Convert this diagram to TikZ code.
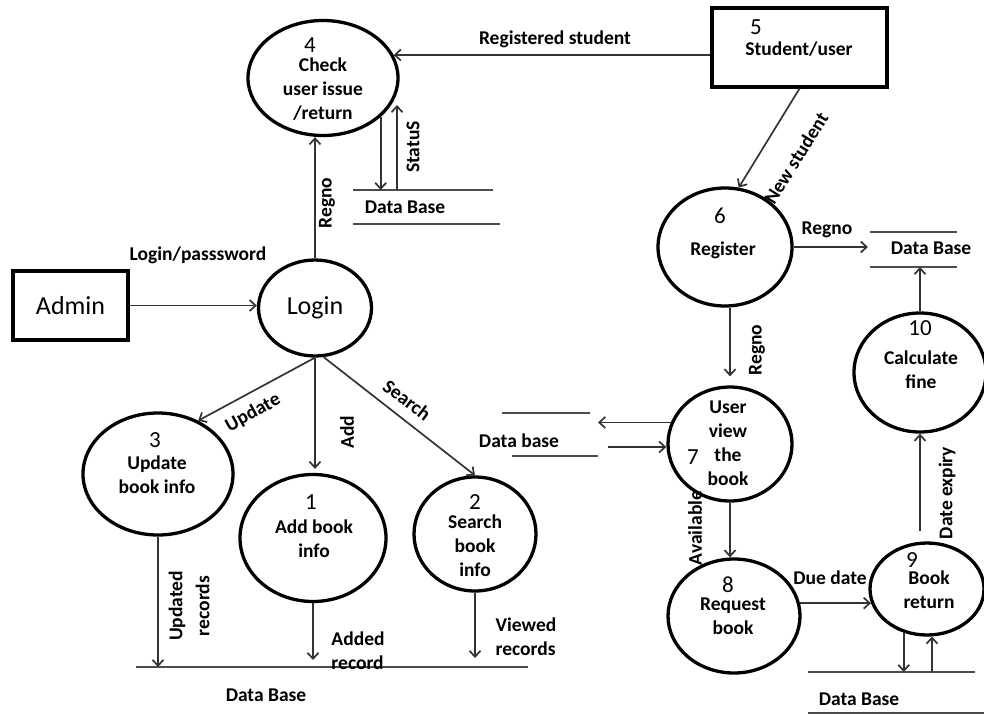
\documentclass[tikz,border=0pt]{standalone}
\usepackage{fontspec}
\setmainfont{Carlito}
\usetikzlibrary{arrows.meta,shapes.geometric,calc}
\definecolor{flowgray}{gray}{0.2}
\definecolor{storegray}{gray}{0.3}
\begin{document}
\begin{tikzpicture}[x=1pt,y=-1pt,
  lbl/.style={font=\fontsize{19.5}{24}\selectfont\bfseries, inner sep=0pt},
  num/.style={font=\fontsize{23}{26}\selectfont, inner sep=0pt},
  big/.style={font=\fontsize{26}{30}\selectfont, inner sep=0pt},
  proc/.style={draw=black, line width=3.3pt, ellipse, inner sep=0pt},
  ent/.style={draw=black, line width=3.2pt, rectangle, inner sep=0pt},
  flow/.style={draw=flowgray, line width=1.7pt, -{Straight Barb[length=6pt,width=11pt]}},
  store/.style={draw=storegray, line width=2.5pt},
]
\useasboundingbox (0,0) rectangle (984,715);

% ---------- external entities ----------
\node[ent, minimum width=175pt, minimum height=79pt] (stud) at (799.5,47.5) {};
\node[num] (n5) at (756,27) {5};
\node[lbl] (tstud) at (799,49) {Student/user};

\node[ent, big, minimum width=115pt, minimum height=69pt] (admin) at (70.5,305.5) {Admin};

% ---------- processes ----------
\node[proc, minimum width=150pt, minimum height=115pt] (e4) at (323,78) {};
\node[num] (n4) at (310,45) {4};
\node[lbl, align=center] (t4) at (323,89) {Check\\user issue\\/return};

\node[proc, big, minimum width=113pt, minimum height=96pt] (login) at (315,308) {Login};

\node[proc, minimum width=134pt, minimum height=118pt] (e6) at (725,247) {};
\node[num] (n6) at (720,216) {6};
\node[lbl] (t6) at (723,250) {Register};

\node[proc, minimum width=150pt, minimum height=122pt] (e3) at (158,474) {};
\node[num] (n3) at (155,440) {3};
\node[lbl, align=center] (t3) at (157,475) {Update\\book info};

\node[proc, minimum width=146pt, minimum height=127pt] (e1) at (313,538) {};
\node[num] (n1) at (311,502) {1};
\node[lbl, align=center] (t1) at (314,539) {Add book\\info};

\node[proc, minimum width=122pt, minimum height=114pt] (e2) at (475,534) {};
\node[num] (n2) at (475,502) {2};
\node[lbl, align=center] (t2) at (475,546) {Search\\book\\info};

\node[proc, minimum width=124pt, minimum height=114pt] (e7) at (730,444) {};
\node[lbl, align=center] (t7) at (728,443) {User\\view\\the\\book};
\node[num] (n7) at (693,457) {7};

\node[proc, minimum width=132pt, minimum height=114pt] (e8) at (734,616) {};
\node[num] (n8) at (728,585) {8};
\node[lbl, align=center] (t8) at (733,616) {Request\\book};

\node[proc, minimum width=114pt, minimum height=92pt] (e9) at (927,589) {};
\node[num] (n9) at (912,560) {9};
\node[lbl, align=center] (t9) at (929,590) {Book\\return};

\node[proc, minimum width=132pt, minimum height=119pt] (e10) at (920,372.5) {};
\node[num] (n10) at (920,328) {10};
\node[lbl, align=center] (t10) at (921,370) {Calculate\\fine};

% ---------- data stores ----------
\draw[store] (353,190) coordinate (db1a) -- (493,190);
\draw[store] (353,224) -- (500,224);
\node[lbl] (db1) at (405,207) {Data Base};

\draw[store] (870,232) -- (957,232);
\draw[store] (870,267) coordinate (db2b) -- (957,267);
\node[lbl] (db2) at (931,248) {Data Base};
\coordinate (db2in) at (868,250);

\draw[store] (502,413) -- (590,413);
\draw[store] (512,456) -- (598,456);
\node[lbl] (db3) at (519,441) {Data base};
\coordinate (db3out) at (598,423);
\coordinate (db3in) at (608,447);

\draw[store] (136,667) coordinate (db4a) -- (528,667);
\node[lbl] (db4) at (266,695) {Data Base};
\coordinate (db4stopA) at (0,660);
\coordinate (db4stopB) at (0,658);

\draw[store] (808,672) coordinate (db5a) -- (975,672);
\draw[store] (808,713) -- (990,713);
\node[lbl] (db5) at (859,699) {Data Base};

% ---------- flows ----------
\draw[flow] (stud.west |- e4.18) -- (e4.18);
\node[lbl] (lreg) at (555,39) {Registered student};

\draw[flow] (stud.south) -- (e6.77);
\node[lbl, rotate=58] (lnew) at (796,158) {New student};

\draw[flow] (e6.east) -- (e6.east -| db2in);
\node[lbl] (lregno2) at (827,230) {Regno};

\draw[flow] (e10.north) -- (e10.north |- db2b);

\draw[flow] (e7.north |- e6.south) -- ($(e7.north)+(0,-9)$);
\node[lbl, rotate=90] (lregno3) at (757,350) {Regno};

\draw[flow] (e7.160) -- (e7.160 -| db3out);
\draw[flow] (db3in) -- (db3in -| e7.west);

\draw[flow] (e7.south) -- (e7.south |- e8.north);
\node[lbl, rotate=90] (lavail) at (695,528) {Available};

\draw[flow] (e8.11) -- (e8.11 -| e9.194);
\node[lbl] (ldue) at (830,578) {Due date};

\draw[flow] ($(e9.north -| e10.south)+(0,-10)$) -- (e10.south);
\node[lbl, rotate=90] (lexp) at (947,493) {Date expiry};

\draw[flow] (e9.242) -- (e9.242 |- db5a);
\draw[flow] (e9.276 |- db5a) -- (e9.276);

\draw[flow] (admin.east) -- (admin.east -| login.west);
\node[lbl] (llogin) at (198,255) {Login/passsword};

\draw[flow] (login.north) -- (login.north |- e4.south);
\node[lbl, rotate=90] (lregno1) at (327,203) {Regno};

\draw[flow] (e4.326) -- (e4.326 |- db1a);
\coordinate (st) at (397,105);
\draw[flow] (st |- db1a) -- (st);
\node[lbl, rotate=90] (lstat) at (413,147) {StatuS};

\draw[flow] (login.south) -- (e3.53);
\node[lbl, rotate=29] (lupd) at (253,413) {Update};

\draw[flow, shorten >=4pt] (login.south) -- (login.south |- e1.north);
\node[lbl, rotate=90] (ladd) at (347,432) {Add};

\draw[flow] (login.-80) -- (e2.north);
\node[lbl, rotate=-37] (lsearch) at (407,400) {Search};

\draw[flow] (e3.south) -- (e3.south |- db4a);
\node[lbl, rotate=90, align=center, font=\fontsize{19.5}{27}\selectfont\bfseries] (lupdrec) at (189,606) {Updated\\records};

\draw[flow] (e1.south) -- (e1.south |- db4stopA);
\node[lbl, align=left] (laddrec) at (358,651) {Added\\record};

\draw[flow] (e2.south) -- (e2.south |- db4stopB);
\node[lbl, align=left] (lview) at (526,637) {Viewed\\records};
\end{tikzpicture}
\end{document}
